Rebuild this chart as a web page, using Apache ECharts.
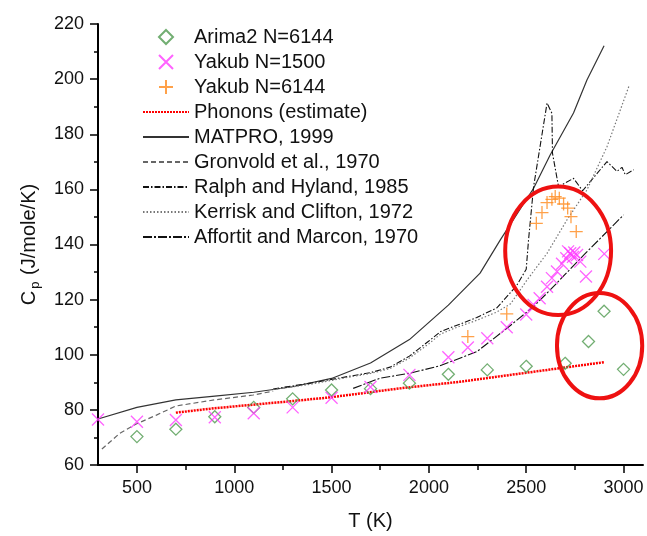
<!DOCTYPE html>
<html>
<head>
<meta charset="utf-8">
<script src="https://cdn.jsdelivr.net/npm/echarts@6/dist/echarts.min.js"></script>
<style>
  html, body { margin: 0; padding: 0; background: #fff; }
  #chart { width: 647px; height: 536px; }
</style>
</head>
<body>
<div id="chart"></div>
<script>
// simulation points
const arimaT  = [500, 700, 900, 1100, 1300, 1500, 1700, 1900, 2100, 2300, 2500, 2700, 2820, 2900, 3000];
const arimaCp = [70.3, 73.0, 77.5, 80.9, 84.0, 87.2, 87.7, 89.7, 92.9, 94.5, 95.8, 96.9, 104.8, 115.8, 94.7];

const yak1500T  = [300, 500, 700, 900, 1100, 1300, 1500, 1700, 1900, 2100, 2200, 2300, 2400, 2500, 2538, 2569, 2607, 2632, 2658, 2684, 2706, 2715, 2726, 2740, 2747, 2761, 2778, 2807, 2901];
const yak1500Cp = [76.5, 75.7, 76.3, 77.3, 78.8, 80.9, 84.4, 88.3, 92.7, 99.1, 102.6, 106.0, 110.0, 114.6, 118.1, 120.5, 124.7, 127.8, 130.2, 133.0, 135.0, 137.5, 136.8, 135.5, 137.1, 136.2, 133.8, 128.4, 136.6];

const yak6144T  = [2200, 2400, 2552, 2581, 2607, 2632, 2649, 2670, 2692, 2713, 2730, 2757];
const yak6144Cp = [106.6, 114.8, 147.7, 151.6, 155.2, 156.4, 157.4, 156.8, 154.7, 153.2, 150.1, 144.7];

// reference curves
const phononT  = [700, 900, 1300, 1500, 1850, 2160, 2900];
const phononCp = [79.0, 80.6, 83.2, 84.6, 87.8, 90.2, 97.3];

const matproT  = [300, 500, 700, 900, 1100, 1300, 1500, 1700, 1900, 2100, 2263, 2367, 2538, 2623, 2743, 2812, 2900];
const matproCp = [76.7, 80.9, 83.6, 85.0, 86.4, 88.4, 91.4, 97.0, 105.5, 118.0, 129.6, 141.7, 160.4, 172.5, 187.7, 199.7, 212.1];

const gronT  = [320, 412, 497, 600, 700, 897, 1097, 1200];
const gronCp = [65.8, 71.5, 74.9, 78.1, 81.4, 83.6, 85.4, 86.8];

const ralphT  = [1200, 1400, 1600, 1700, 1800, 1900, 2000, 2060, 2126, 2246, 2349, 2450, 2500, 2512, 2538, 2607, 2632, 2635, 2666, 2743, 2790, 2915, 2966, 2992, 3009, 3052];
const ralphCp = [87.6, 89.8, 92.3, 93.5, 95.5, 99.5, 105.0, 108.4, 110.2, 113.5, 117.0, 125.0, 131.0, 141.7, 161.0, 191.3, 187.6, 173.1, 161.0, 164.0, 159.5, 170.1, 166.5, 168.0, 165.3, 167.1];

const kerriskT  = [1200, 1400, 1600, 1700, 1800, 1900, 2000, 2060, 2126, 2246, 2349, 2420, 2504, 2607, 2709, 2812, 2915, 3027];
const kerriskCp = [87.4, 89.4, 92.0, 93.2, 95.0, 98.8, 104.0, 107.5, 109.5, 112.5, 115.5, 118.5, 127.1, 136.8, 148.9, 159.8, 175.5, 197.3];

const affortitT  = [1611, 1749, 1903, 2057, 2246, 2401, 2538, 2623, 2800, 3000];
const affortitCp = [87.8, 91.5, 93.3, 96.0, 101.1, 109.6, 117.5, 123.5, 136.5, 150.7];

const xTicks = [500, 1000, 1500, 2000, 2500, 3000];
const xMinorTicks = [750, 1250, 1750, 2250, 2750];

const pairs = (xs, ys) => xs.map((x, i) => [x, ys[i]]);

const FONT = '"Liberation Sans", Arial, sans-serif';

const chart = echarts.init(document.getElementById('chart'));

function lineSeries(name, xs, ys, color, width, dash) {
    return {
        name: name,
        type: 'line',
        data: pairs(xs, ys),
        showSymbol: false,
        symbol: 'none',
        lineStyle: { color: color, width: width, type: dash },
        itemStyle: { color: color },
        z: 2
    };
}

function scatterSeries(name, xs, ys, symbol, color, size) {
    return {
        name: name,
        type: 'scatter',
        data: pairs(xs, ys),
        symbol: symbol,
        symbolSize: size,
        itemStyle: { color: 'rgba(0,0,0,0)', borderColor: color, borderWidth: 1.3 },
        z: 4
    };
}

const pointNames = ['Arima2 N=6144', 'Yakub N=1500', 'Yakub N=6144'];
const curveNames = ['Phonons (estimate)', 'MATPRO, 1999', 'Gronvold et al., 1970', 'Ralph and Hyland, 1985',
                    'Kerrisk and Clifton, 1972', 'Affortit and Marcon, 1970'];

chart.setOption({
    animation: false,
    backgroundColor: '#fff',
    textStyle: { fontFamily: FONT },
    grid: { left: 98, right: 4, top: 24, bottom: 71 },
    legend: {
        orient: 'vertical',
        left: 142,
        top: 27,
        padding: 0,
        itemWidth: 46,
        itemHeight: 14,
        itemGap: 5,
        textStyle: { fontSize: 20, color: '#111', fontFamily: FONT, lineHeight: 20 },
        data: pointNames.map(n => ({ name: n }))
            .concat(curveNames.map(n => ({ name: n, itemStyle: { opacity: 0 } })))
    },
    xAxis: [{
        type: 'value',
        min: 300,
        max: 3100,
        name: 'T (K)',
        nameLocation: 'middle',
        nameGap: 46,
        nameTextStyle: { fontSize: 20, color: '#111', fontFamily: FONT },
        splitLine: { show: false },
        axisLine: { lineStyle: { color: '#000', width: 2 } },
        axisTick: { customValues: xTicks, length: 8, lineStyle: { color: '#000', width: 1.5 } },
        axisLabel: { customValues: xTicks, fontSize: 18, color: '#111', margin: 14, fontFamily: FONT,
                     formatter: v => String(v) }
    }, {
        type: 'value',
        min: 300,
        max: 3100,
        position: 'bottom',
        splitLine: { show: false },
        axisLine: { show: false },
        axisTick: { customValues: xMinorTicks, length: 5, lineStyle: { color: '#000', width: 1.5 } },
        axisLabel: { show: false }
    }],
    yAxis: {
        type: 'value',
        min: 60,
        max: 220,
        interval: 20,
        name: '{c|C}{p|p}{c| (J/mole/K)}',
        nameLocation: 'middle',
        nameGap: 56,
        nameTextStyle: {
            color: '#111',
            rich: {
                c: { fontSize: 20, fontFamily: FONT, color: '#111', lineHeight: 26 },
                p: { fontSize: 13, fontFamily: FONT, color: '#111', lineHeight: 13,
                     verticalAlign: 'bottom', padding: [0, 1, 0, 2] }
            }
        },
        splitLine: { show: false },
        axisLine: { lineStyle: { color: '#000', width: 2 } },
        axisTick: { length: 8, lineStyle: { color: '#000', width: 1.5 } },
        minorTick: { show: true, splitNumber: 2, length: 4, lineStyle: { color: '#000', width: 1.5 } },
        axisLabel: { fontSize: 18, color: '#111', margin: 14, fontFamily: FONT }
    },
    series: [
        scatterSeries('Arima2 N=6144', arimaT, arimaCp, 'path://M5,0L10,5L5,10L0,5Z', '#4f9a4f', 12),
        scatterSeries('Yakub N=1500', yak1500T, yak1500Cp, 'path://M0,0L10,10M10,0L0,10', '#ff3cff', 12),
        scatterSeries('Yakub N=6144', yak6144T, yak6144Cp, 'path://M5,0L5,10M0,5L10,5', '#ff8a1c', 13),
        lineSeries('Phonons (estimate)', phononT, phononCp, '#ff0000', 2.5, [2, 1]),
        lineSeries('MATPRO, 1999', matproT, matproCp, '#333', 1.2, 'solid'),
        lineSeries('Gronvold et al., 1970', gronT, gronCp, '#666', 1.2, [5, 3]),
        lineSeries('Ralph and Hyland, 1985', ralphT, ralphCp, '#111', 1.1, [6, 2, 1.5, 2]),
        lineSeries('Kerrisk and Clifton, 1972', kerriskT, kerriskCp, '#777', 1.2, [1.5, 2]),
        lineSeries('Affortit and Marcon, 1970', affortitT, affortitCp, '#111', 1.1, [9, 2, 2, 2])
    ]
});

// red annotation ellipses, placed in data space
const rings = [
    { t: 2664, cp: 137.7, dt: 272, dcp: 23.3 },
    { t: 2877, cp: 103.3, dt: 219, dcp: 19.1 }
];
const graphics = rings.map(r => {
    const c = chart.convertToPixel({ gridIndex: 0 }, [r.t, r.cp]);
    const e = chart.convertToPixel({ gridIndex: 0 }, [r.t + r.dt, r.cp + r.dcp]);
    return {
        type: 'ellipse',
        shape: { cx: c[0], cy: c[1], rx: Math.abs(e[0] - c[0]), ry: Math.abs(e[1] - c[1]) },
        style: { fill: null, stroke: '#ee1111', lineWidth: 4 },
        z: 10
    };
});
chart.setOption({ graphic: graphics });
</script>
</body>
</html>
